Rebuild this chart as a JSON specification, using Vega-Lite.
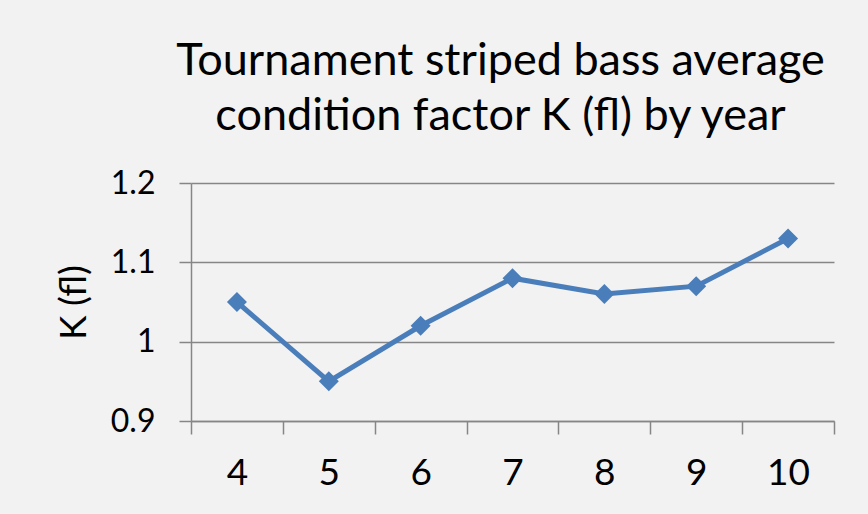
{
  "$schema": "https://vega.github.io/schema/vega-lite/v6.json",
  "width": 643,
  "height": 238,
  "autosize": {"type": "none"},
  "padding": {"left": 191, "top": 183, "right": 34, "bottom": 93},
  "background": "#f2f2f2",
  "title": {
    "text": ["Tournament striped bass average", "condition factor K (fl) by year"],
    "font": "Lato",
    "fontSize": 45,
    "fontWeight": "normal",
    "color": "#000000",
    "anchor": "middle",
    "frame": "group",
    "dx": -12,
    "offset": 28,
    "lineHeight": 55
  },
  "data": {
    "values": [
      {"year": "4", "K": 1.05},
      {"year": "5", "K": 0.95},
      {"year": "6", "K": 1.02},
      {"year": "7", "K": 1.08},
      {"year": "8", "K": 1.06},
      {"year": "9", "K": 1.07},
      {"year": "10", "K": 1.13}
    ]
  },
  "config": {
    "view": {"stroke": null},
    "axis": {
      "labelFont": "Lato",
      "titleFont": "Lato",
      "labelColor": "#000000",
      "titleColor": "#000000",
      "domainColor": "#868686",
      "tickColor": "#868686",
      "gridColor": "#868686",
      "domainWidth": 1.5,
      "tickWidth": 1.5,
      "gridWidth": 1.5
    }
  },
  "mark": {
    "type": "line",
    "color": "#4a7ebb",
    "strokeWidth": 5,
    "point": {"shape": "diamond", "size": 400, "filled": true, "color": "#4a7ebb", "opacity": 1}
  },
  "encoding": {
    "x": {
      "field": "year",
      "type": "ordinal",
      "sort": null,
      "scale": {"type": "band", "paddingInner": 0, "paddingOuter": 0},
      "axis": {
        "title": null,
        "labelAngle": 0,
        "labelFontSize": 37,
        "labelPadding": 21,
        "tickBand": "extent",
        "tickSize": 13,
        "grid": false,
        "domain": true
      }
    },
    "y": {
      "field": "K",
      "type": "quantitative",
      "scale": {"domain": [0.9, 1.2], "zero": false, "nice": false},
      "axis": {
        "title": "K (fl)",
        "titleFontSize": 37,
        "titleFontWeight": "normal",
        "titlePadding": 17,
        "values": [0.9, 1.0, 1.1, 1.2],
        "labelFontSize": 32,
        "labelPadding": 24,
        "labelExpr": "datum.value == 1 ? '1' : format(datum.value, '.1f')",
        "tickSize": 12,
        "grid": true,
        "domain": true
      }
    }
  }
}
